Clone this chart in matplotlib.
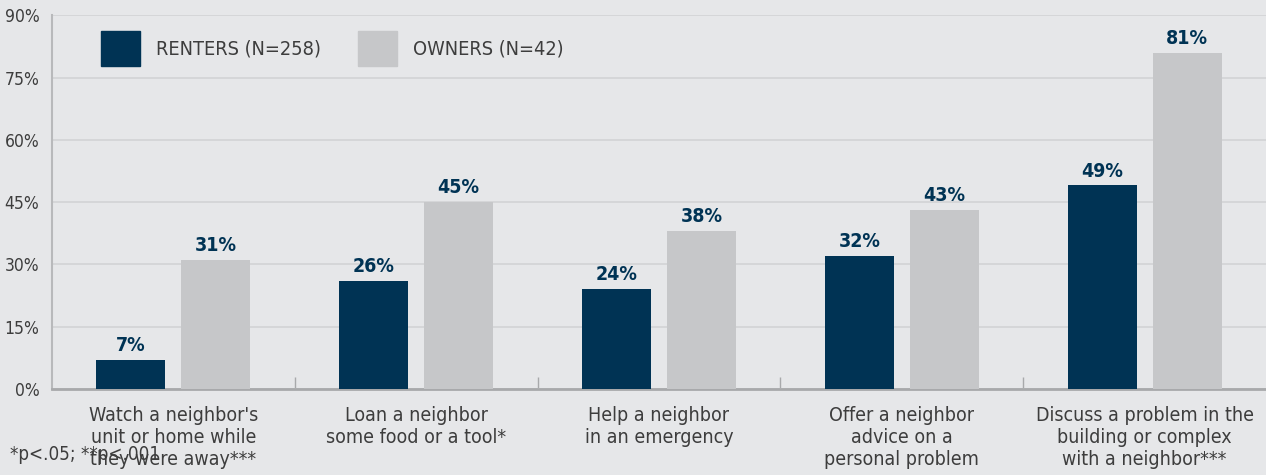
import numpy as np
import matplotlib
matplotlib.use("Agg")
import matplotlib.pyplot as plt
from matplotlib.patches import Rectangle

categories = [
    "Watch a neighbor's\nunit or home while\nthey were away***",
    "Loan a neighbor\nsome food or a tool*",
    "Help a neighbor\nin an emergency",
    "Offer a neighbor\nadvice on a\npersonal problem",
    "Discuss a problem in the\nbuilding or complex\nwith a neighbor***",
]
renters = [7, 26, 24, 32, 49]
owners = [31, 45, 38, 43, 81]
series_names = ["RENTERS (N=258)", "OWNERS (N=42)"]
yticks = [0, 15, 30, 45, 60, 75, 90]
footnote = "*p<.05; **p<.001"

BG = "#e6e7e9"
NAVY = "#003354"
GREY = "#c6c7c9"
TEXT = "#3d3d3d"

plt.rcParams["font.family"] = ["DejaVu Sans"]
plt.rcParams["font.stretch"] = "condensed"

fig = plt.figure(figsize=(12.66, 4.75), dpi=100, facecolor=BG)
ax = fig.add_axes([0.041, 0.181, 0.959, 0.787], facecolor=BG)

x = np.arange(len(categories))
w = 0.284
off = 0.175
b1 = ax.bar(x - off, renters, w, color=NAVY, zorder=3)
b2 = ax.bar(x + off, owners, w, color=GREY, zorder=3)

for bars, vals in ((b1, renters), (b2, owners)):
    for r, v in zip(bars, vals):
        ax.text(r.get_x() + r.get_width() / 2, v + 1.2, f"{v}%", ha="center", va="bottom",
                color=NAVY, fontsize=14, fontweight="bold")

ax.set_xlim(-0.5, len(categories) - 0.5)
ax.set_ylim(0, 90)
ax.set_yticks(yticks)
ax.set_yticklabels([f"{t}%" for t in yticks], fontsize=12.5, color=TEXT)
ax.yaxis.grid(True, color="#d4d5d7", linewidth=1.3, zorder=0)
ax.tick_params(axis="y", length=0, pad=9)

ax.set_xticks(x)
ax.set_xticklabels(categories, fontsize=14, color=TEXT, linespacing=1.22)
ax.tick_params(axis="x", which="major", length=0, pad=12)
ax.set_xticks(np.arange(0.5, len(categories) - 0.5), minor=True)
ax.tick_params(axis="x", which="minor", direction="in", length=9, color="#a8a9ab", width=1)

for s in ("top", "right"):
    ax.spines[s].set_visible(False)
ax.spines["left"].set_color("#b8b9bb")
ax.spines["left"].set_linewidth(1.5)
ax.spines["bottom"].set_color("#a8a9ab")
ax.spines["bottom"].set_linewidth(2)

# legend drawn by hand to match the boxed squares
for i, (name, col) in enumerate(zip(series_names, [NAVY, GREY])):
    x0 = 101 + i * 257
    fig.patches.append(Rectangle((x0 / 1266, 1 - 66 / 475), 39 / 1266, 35 / 475,
                                 transform=fig.transFigure, color=col, figure=fig))
    fig.text((x0 + 55) / 1266, 1 - 49 / 475, name, fontsize=14.3, color=TEXT, va="center")

# footnote sits over the first label, as in the original
fig.text(10 / 1266, 1 - 455 / 475, footnote, fontsize=13.5, color=TEXT, va="center")

fig.savefig("out.png", dpi=100, facecolor=BG)
